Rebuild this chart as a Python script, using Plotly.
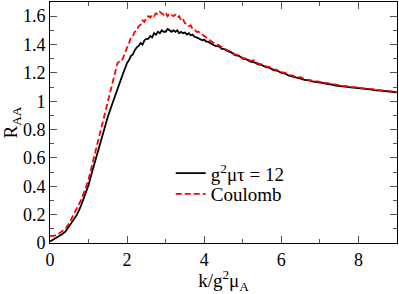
import plotly.graph_objects as go

# ---- data ----
k_black = [0.0, 0.1, 0.2, 0.3, 0.4, 0.5, 0.6, 0.7, 0.8, 0.9,
           1.0, 1.1, 1.2, 1.3, 1.4, 1.5, 1.6, 1.7, 1.8, 1.9,
           2.0, 2.05, 2.1, 2.15, 2.2, 2.25, 2.3, 2.35, 2.4, 2.45,
           2.5, 2.55, 2.6, 2.65, 2.7, 2.75, 2.8, 2.85, 2.9, 2.95,
           3.0, 3.05, 3.1, 3.15, 3.2, 3.25, 3.3, 3.35, 3.4, 3.45,
           3.5, 3.55, 3.6, 3.65, 3.7, 3.75, 3.8, 3.85, 3.9, 3.95,
           4.0, 4.05, 4.1, 4.15, 4.2, 4.25, 4.3, 4.35, 4.4, 4.45, 4.5,
           4.6, 4.7, 4.8, 4.9, 5.0, 5.1, 5.2, 5.3, 5.4, 5.5,
           5.6, 5.7, 5.8, 5.9, 6.0, 6.1, 6.2, 6.3, 6.4, 6.5,
           6.6, 6.7, 6.8, 6.9, 7.0, 7.1, 7.2, 7.3, 7.4, 7.5,
           7.6, 7.7, 7.8, 7.9, 8.0, 8.1, 8.2, 8.3, 8.4, 8.5,
           8.6, 8.7, 8.8, 8.9, 9.0]
r_black = [0.01, 0.025, 0.04, 0.06, 0.08, 0.12, 0.16, 0.20, 0.26, 0.33,
           0.41, 0.51, 0.61, 0.70, 0.80, 0.89, 0.97, 1.05, 1.13, 1.20,
           1.27, 1.29, 1.32, 1.33, 1.36, 1.38, 1.39, 1.41, 1.40, 1.43,
           1.44, 1.44, 1.46, 1.45, 1.48, 1.47, 1.49, 1.48, 1.50, 1.49,
           1.49, 1.51, 1.50, 1.49, 1.50, 1.49, 1.50, 1.48, 1.49, 1.48,
           1.485, 1.47, 1.48, 1.465, 1.47, 1.455, 1.45, 1.445, 1.44, 1.43,
           1.435, 1.42, 1.42, 1.41, 1.405, 1.395, 1.39, 1.385, 1.385, 1.37, 1.37,
           1.355, 1.345, 1.325, 1.32, 1.30, 1.295, 1.28, 1.275, 1.26, 1.255,
           1.24, 1.235, 1.22, 1.215, 1.20, 1.195, 1.18, 1.175, 1.165, 1.16,
           1.15, 1.148, 1.14, 1.137, 1.13, 1.127, 1.12, 1.118, 1.11, 1.109,
           1.104, 1.102, 1.097, 1.095, 1.09, 1.089, 1.085, 1.083, 1.079, 1.078,
           1.074, 1.072, 1.068, 1.067, 1.062]

k_red = [0.0, 0.1, 0.2, 0.3, 0.4, 0.5, 0.6, 0.7, 0.8, 0.9,
         1.0, 1.1, 1.2, 1.3, 1.4, 1.5, 1.6, 1.7, 1.75, 1.8, 1.85, 1.9, 1.95,
         2.0, 2.05, 2.1, 2.15, 2.2, 2.25, 2.3, 2.35, 2.4, 2.45,
         2.5, 2.55, 2.6, 2.65, 2.7, 2.75, 2.8, 2.85, 2.9, 2.95,
         3.0, 3.05, 3.1, 3.15, 3.2, 3.25, 3.3, 3.35, 3.4, 3.45,
         3.5, 3.55, 3.6, 3.65, 3.7, 3.75, 3.8, 3.85, 3.9, 3.95,
         4.0, 4.05, 4.1, 4.15, 4.2, 4.25, 4.3, 4.35, 4.4, 4.45, 4.5,
         4.6, 4.7, 4.8, 4.9, 5.0, 5.1, 5.2, 5.3, 5.4, 5.5,
         5.6, 5.7, 5.8, 5.9, 6.0, 6.1, 6.2, 6.3, 6.4, 6.5,
         6.6, 6.7, 6.8, 6.9, 7.0, 7.1, 7.2, 7.3, 7.4, 7.5,
         7.6, 7.7, 7.8, 7.9, 8.0, 8.1, 8.2, 8.3, 8.4, 8.5,
         8.6, 8.7, 8.8, 8.9, 9.0]
r_red = [0.05, 0.05, 0.06, 0.08, 0.10, 0.14, 0.19, 0.24, 0.30, 0.37,
         0.45, 0.56, 0.67, 0.78, 0.89, 0.99, 1.10, 1.21, 1.27, 1.28, 1.28, 1.31, 1.35,
         1.38, 1.41, 1.45, 1.46, 1.49, 1.50, 1.53, 1.54, 1.57, 1.56,
         1.59, 1.60, 1.59, 1.61, 1.60, 1.62, 1.61, 1.63, 1.62, 1.61,
         1.625, 1.60, 1.62, 1.61, 1.60, 1.61, 1.59, 1.60, 1.57, 1.58,
         1.55, 1.545, 1.53, 1.535, 1.51, 1.505, 1.49, 1.49, 1.48, 1.47,
         1.46, 1.455, 1.44, 1.435, 1.42, 1.415, 1.40, 1.40, 1.39, 1.38, 1.375,
         1.36, 1.35, 1.33, 1.325, 1.305, 1.30, 1.285, 1.29, 1.265, 1.26,
         1.245, 1.24, 1.225, 1.22, 1.205, 1.20, 1.185, 1.18, 1.168, 1.17,
         1.155, 1.15, 1.145, 1.142, 1.135, 1.13, 1.125, 1.122, 1.115, 1.113,
         1.108, 1.107, 1.10, 1.10, 1.095, 1.092, 1.088, 1.087, 1.082, 1.082,
         1.077, 1.076, 1.072, 1.07, 1.065]

x_ticks = [0, 2, 4, 6, 8]
x_labels = ["0", "2", "4", "6", "8"]
y_ticks = [0, 0.2, 0.4, 0.6, 0.8, 1.0, 1.2, 1.4, 1.6]
y_labels = ["0", "0.2", "0.4", "0.6", "0.8", "1", "1.2", "1.4", "1.6"]

FONT = "Liberation Serif"

fig = go.Figure()
fig.add_trace(go.Scatter(x=k_black, y=r_black, mode="lines",
                         name="g<sup>2</sup>μτ = 12", legend="legend",
                         line=dict(color="black", width=1.8)))
fig.add_trace(go.Scatter(x=k_red, y=r_red, mode="lines",
                         name="Coulomb", legend="legend2",
                         line=dict(color="#ff0000", width=1.8, dash="6px,3px")))

axis_common = dict(showline=True, linecolor="black", linewidth=1,
                   mirror="ticks", ticks="inside", ticklen=7, tickwidth=1,
                   tickcolor="#555555", showgrid=False, zeroline=False,
                   tickfont=dict(family=FONT, size=18, color="black"))

fig.update_xaxes(range=[0, 9], tickvals=x_ticks, ticktext=x_labels,
                 minor=dict(dtick=1, ticks="inside", ticklen=4, tickcolor="#555555"),
                 title=dict(text="k/g<sup>2</sup>μ<sub>A</sub>",
                            font=dict(family=FONT, size=19, color="black"),
                            standoff=2),
                 **axis_common)
fig.update_yaxes(range=[0, 1.7], tickvals=y_ticks, ticktext=y_labels,
                 minor=dict(dtick=0.1, ticks="inside", ticklen=4, tickcolor="#555555"),
                 title=dict(text="R<sub>AA</sub>",
                            font=dict(family=FONT, size=19, color="black"),
                            standoff=2),
                 **axis_common)

legend_common = dict(xanchor="left", yanchor="middle",
                     bgcolor="rgba(0,0,0,0)", borderwidth=0,
                     font=dict(family=FONT, size=19, color="black"),
                     itemwidth=30)

fig.update_layout(
    width=399, height=294,
    margin=dict(l=50, r=2, t=2, b=51, autoexpand=False),
    paper_bgcolor="white", plot_bgcolor="white",
    showlegend=True,
    legend=dict(x=0.348, y=0.289, **legend_common),
    legend2=dict(x=0.348, y=0.203, **legend_common),
)

fig.write_html("out.html", config={"displayModeBar": False},
               post_script="document.body.style.margin='0';document.body.style.overflow='hidden';")
